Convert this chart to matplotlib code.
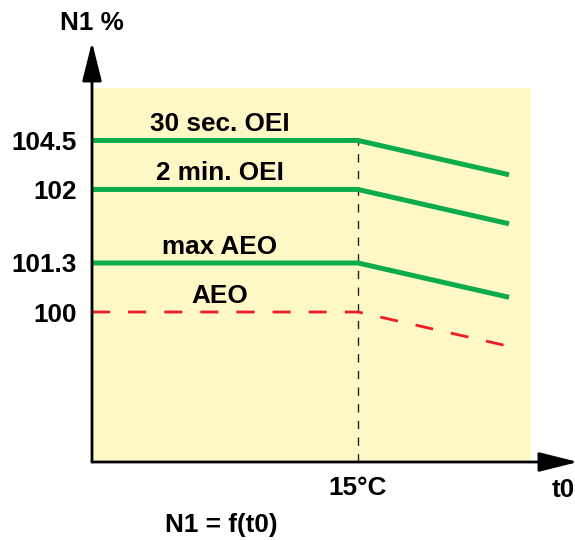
import matplotlib
matplotlib.use("Agg")
import matplotlib.pyplot as plt

# N1 ratings (schematic: flat up to 15 °C, then decreasing with t0)
ratings = ["30 sec. OEI", "2 min. OEI", "max AEO", "AEO"]
n1_labels = ["104.5", "102", "101.3", "100"]
levels = [3.5, 2.5, 1.0, 0.0]          # schematic height of each rating
styles = ["solid", "solid", "solid", "dashed"]

t_start = 0.0      # left end of the t0 axis
t_break = 0.606    # 15 °C
t_end = 0.95       # right end of the rating lines
drop = 0.70        # decrease of each rating between 15 °C and t_end

plt.rcParams["font.family"] = ["Liberation Sans", "DejaVu Sans"]
plt.rcParams["font.weight"] = "bold"

GREEN = "#0cac4b"
RED = "#ee1c24"
YELLOW = "#fdf8c6"
FS = 18.8

fig = plt.figure(figsize=(5.75, 5.40), dpi=100)
ax = fig.add_axes([92 / 575, 78 / 540, 439 / 575, 374 / 540])
ax.set_facecolor(YELLOW)
ax.set_xlim(0, 1)
ax.set_ylim(-3.06, 4.57)
for s in ax.spines.values():
    s.set_visible(False)

# rating curves
for name, lvl, ls in zip(ratings, levels, styles):
    xs = [t_start, t_break, t_end]
    ys = [lvl, lvl, lvl - drop]
    if ls == "solid":
        ax.plot(xs, ys, color=GREEN, lw=3.6, solid_capstyle="butt",
                solid_joinstyle="miter", clip_on=False, zorder=3)
    else:
        ax.plot(xs, ys, color=RED, lw=2.0, linestyle=(0, (6.5, 6.5)),
                dash_capstyle="butt", clip_on=False, zorder=3)
    ax.text(0.2916, lvl + 0.19, name, ha="center", va="baseline",
            fontsize=FS, fontweight="bold", zorder=4)

# 15 °C reference line
ax.plot([t_break, t_break], [-3.06, max(levels)], color="#222222", lw=1.0,
        linestyle=(0, (6, 6)), zorder=2)

# ticks
ax.set_yticks(levels)
ax.set_yticklabels(n1_labels)
ax.set_xticks([t_break])
ax.set_xticklabels(["15°C"])
ax.tick_params(axis="y", length=0, pad=11, labelsize=FS)
ax.tick_params(axis="x", length=0, pad=10, labelsize=FS)
for lab in ax.get_xticklabels() + ax.get_yticklabels():
    lab.set_fontweight("bold")

# axes with arrow heads
arrow = dict(arrowstyle="-|>,head_length=24,head_width=6", mutation_scale=1,
             color="black", lw=2, shrinkA=0, shrinkB=0)
ax.annotate("", xy=(1.107, 0), xytext=(0, 0), xycoords="axes fraction",
            textcoords="axes fraction", arrowprops=arrow, annotation_clip=False)
ax.annotate("", xy=(0, 1.123), xytext=(0, 0), xycoords="axes fraction",
            textcoords="axes fraction", arrowprops=arrow, annotation_clip=False)

# axis titles
fig.text(92 / 575, 1 - 30 / 540, "N1 %", ha="center", va="baseline",
         fontsize=FS, fontweight="bold")
fig.text(552 / 575, 1 - 497 / 540, "t0", ha="left", va="baseline",
         fontsize=FS, fontweight="bold")
fig.text(221 / 575, 1 - 532 / 540, "N1 = f(t0)", ha="center", va="baseline",
         fontsize=FS, fontweight="bold")

fig.savefig("out.png", dpi=100, facecolor="white")
